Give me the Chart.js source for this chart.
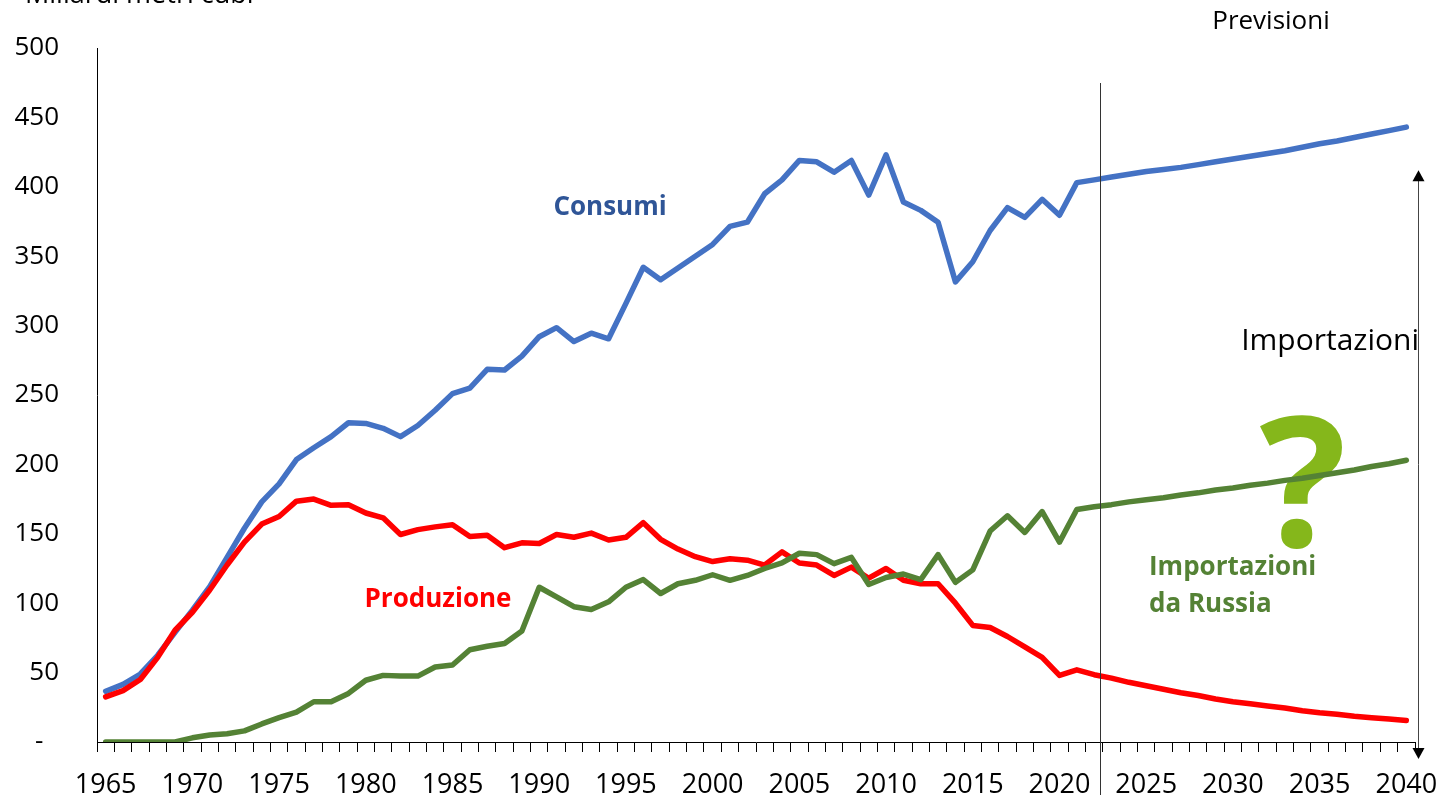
<!DOCTYPE html>
<html lang="it">
<head>
    <meta charset="UTF-8">
    <title>Gas naturale - consumi, produzione, importazioni</title>
    <script src="https://cdn.jsdelivr.net/npm/chart.js"></script>
    <style>
        body {
            margin: 0;
            background-color: white;
        }
        #wrap {
            width: 1443px;
            height: 795px;
        }
    </style>
</head>
<body>
    <div id="wrap">
        <canvas id="gasChart" width="1443" height="795"></canvas>
    </div>

    <script>
        // anni 1965 - 2040 (dal 2022 previsioni)
        const anni = [
            1965, 1966, 1967, 1968, 1969, 1970, 1971, 1972, 1973, 1974,
            1975, 1976, 1977, 1978, 1979, 1980, 1981, 1982, 1983, 1984,
            1985, 1986, 1987, 1988, 1989, 1990, 1991, 1992, 1993, 1994,
            1995, 1996, 1997, 1998, 1999, 2000, 2001, 2002, 2003, 2004,
            2005, 2006, 2007, 2008, 2009, 2010, 2011, 2012, 2013, 2014,
            2015, 2016, 2017, 2018, 2019, 2020, 2021, 2022, 2023, 2024,
            2025, 2026, 2027, 2028, 2029, 2030, 2031, 2032, 2033, 2034,
            2035, 2036, 2037, 2038, 2039, 2040
        ];

        const consumi = [
            36.5, 41.5, 49, 62.5, 79, 95, 112, 133, 154, 173,
            186, 203.5, 212, 220, 230, 229.5, 226, 220, 228, 239,
            251, 255, 268.5, 268, 278, 292, 298.5, 288.5, 294.5, 290.5,
            316, 342, 333, 341.5, 350, 358.5, 371.5, 374.5, 395, 405,
            419, 418, 410.5, 419, 394, 423, 389, 383, 374.5, 331.5,
            346, 368.5, 385, 378, 391, 379.5, 403, 405, 407, 409,
            411, 412.5, 414, 416, 418, 420, 422, 424, 426, 428.5,
            431, 433, 435.5, 438, 440.5, 443
        ];

        const produzione = [
            32.5, 37, 45, 61, 80.5, 93.5, 109.5, 127.5, 144, 157,
            162.5, 173.5, 175, 170.5, 171, 165, 161.5, 149.5, 153, 155,
            156.5, 148, 149, 140, 143.5, 143, 149.5, 147.5, 150.5, 145.5,
            147.5, 158, 146, 139, 133.5, 130, 132, 131, 127.5, 137,
            129, 127.5, 120, 126, 118, 125, 116.5, 114, 114, 100,
            84, 82.5, 76, 68.5, 61, 48, 52, 48.5, 46, 43,
            40.5, 38, 35.5, 33.5, 31, 29, 27.5, 26, 24.5, 22.5,
            21, 20, 18.5, 17.5, 16.5, 15.5
        ];

        const importRussia = [
            0, 0, 0, 0, 0, 3, 5, 6, 8, 13,
            17.5, 21.5, 29, 29, 35, 44.5, 48, 47.5, 47.5, 54,
            55.5, 66.5, 69, 71, 80, 111.5, 104.5, 97.5, 95.5, 101,
            111.5, 117, 107, 114, 116.5, 120.5, 116.5, 120, 125, 129,
            136, 135, 128.5, 133, 113.5, 118.5, 121, 117, 135, 115,
            124, 152, 163, 151, 166, 144, 167.5, 169.5, 171, 173,
            174.5, 176, 178, 179.5, 181.5, 183, 185, 186.5, 188.5, 190,
            192, 194, 196, 198.5, 200.5, 203
        ];

        const yTicks = [0, 50, 100, 150, 200, 250, 300, 350, 400, 450, 500];

        const font = "'Open Sans', 'DejaVu Sans', sans-serif";

        function arrowHead(ctx, x, y, dir) {
            ctx.beginPath();
            ctx.moveTo(x, y);
            ctx.lineTo(x - 6, y - dir * 11);
            ctx.lineTo(x + 6, y - dir * 11);
            ctx.closePath();
            ctx.fill();
        }

        // "?" sotto le linee
        const questionPlugin = {
            id: 'question',
            beforeDatasetsDraw(chart) {
                const ctx = chart.ctx;
                ctx.save();
                ctx.fillStyle = '#85b71b';
                ctx.font = 'bold 182px ' + font;
                ctx.textAlign = 'center';
                ctx.textBaseline = 'alphabetic';
                ctx.fillText('?', 1303, 547);
                ctx.restore();
            }
        };

        // scritte, linea delle previsioni e freccia
        const notesPlugin = {
            id: 'notes',
            afterDraw(chart) {
                const ctx = chart.ctx;
                const x = chart.scales.x;
                const y = chart.scales.y;
                const area = chart.chartArea;
                const step = x.getPixelForValue(1) - x.getPixelForValue(0);
                ctx.save();

                // linea inizio previsioni
                const xPrev = x.getPixelForValue(anni.indexOf(2022)) + step * 0.33;
                ctx.strokeStyle = '#333';
                ctx.lineWidth = 1;
                ctx.beginPath();
                ctx.moveTo(Math.round(xPrev) + 0.5, 83);
                ctx.lineTo(Math.round(xPrev) + 0.5, 795);
                ctx.stroke();

                // freccia importazioni
                const xArr = Math.round(area.right + 3) + 0.5;
                const yTop = y.getPixelForValue(412);
                const yBot = area.bottom + 17;
                ctx.strokeStyle = '#444';
                ctx.fillStyle = '#000';
                ctx.beginPath();
                ctx.moveTo(xArr, yTop + 8);
                ctx.lineTo(xArr, yBot - 8);
                ctx.stroke();
                arrowHead(ctx, xArr, yTop, -1);
                arrowHead(ctx, xArr, yBot, 1);

                ctx.fillStyle = '#000';
                ctx.font = '27px ' + font;
                ctx.textAlign = 'left';
                ctx.textBaseline = 'alphabetic';
                ctx.fillText('Miliardi metri cubi', 25, 3);
                ctx.textBaseline = 'middle';
                ctx.font = '26px ' + font;
                ctx.textAlign = 'center';
                ctx.fillText('Previsioni', 1271, 22);
                ctx.font = '30px ' + font;
                ctx.textAlign = 'right';
                ctx.fillText('Importazioni', 1419, 341);

                ctx.font = 'bold 26px ' + font;
                ctx.textAlign = 'center';
                ctx.fillStyle = '#2f5597';
                ctx.fillText('Consumi', 610, 208);
                ctx.fillStyle = '#ff0000';
                ctx.fillText('Produzione', 438, 600);
                ctx.fillStyle = '#548235';
                ctx.textAlign = 'left';
                ctx.fillText('Importazioni', 1149, 568);
                ctx.fillText('da Russia', 1149, 605);
                ctx.restore();
            }
        };

        const lineStyle = {
            borderWidth: 5.5,
            pointRadius: 0,
            tension: 0,
            borderCapStyle: 'round',
            borderJoinStyle: 'round'
        };

        const ctx = document.getElementById('gasChart').getContext('2d');
        const gasChart = new Chart(ctx, {
            type: 'line',
            data: {
                labels: anni,
                datasets: [
                    Object.assign({
                        label: 'Consumi',
                        data: consumi,
                        borderColor: '#4472c4',
                        backgroundColor: '#4472c4',
                        order: 3
                    }, lineStyle),
                    Object.assign({
                        label: 'Produzione',
                        data: produzione,
                        borderColor: '#ff0000',
                        backgroundColor: '#ff0000',
                        order: 2
                    }, lineStyle),
                    Object.assign({
                        label: 'Importazioni da Russia',
                        data: importRussia,
                        borderColor: '#548235',
                        backgroundColor: '#548235',
                        order: 1
                    }, lineStyle)
                ]
            },
            options: {
                responsive: false,
                animation: false,
                layout: {
                    padding: { top: 48, right: 28, bottom: 0, left: 0 }
                },
                plugins: {
                    legend: { display: false },
                    tooltip: { enabled: false }
                },
                scales: {
                    x: {
                        offset: true,
                        grid: {
                            display: true,
                            offset: true,
                            drawOnChartArea: false,
                            drawTicks: true,
                            tickLength: 10,
                            color: '#000'
                        },
                        border: { display: true, color: '#000', width: 1 },
                        ticks: {
                            autoSkip: false,
                            maxRotation: 0,
                            color: '#000',
                            padding: 17,
                            font: { family: font, size: 27 },
                            callback: function (val, i) {
                                const a = anni[i];
                                return a % 5 === 0 ? String(a) : '';
                            }
                        },
                        afterFit: function (scale) {
                            scale.height = 53;
                            scale.paddingLeft = 0;
                            scale.paddingRight = 0;
                        }
                    },
                    y: {
                        min: 0,
                        max: 500,
                        grid: { display: false, drawTicks: false },
                        border: { display: true, color: '#000', width: 1 },
                        afterBuildTicks: function (scale) {
                            scale.ticks = yTicks.map(v => ({ value: v }));
                        },
                        ticks: {
                            color: '#000',
                            padding: 38,
                            font: { family: font, size: 26 },
                            callback: function (v) {
                                return v === 0 ? '-\u2002\u200a' : String(v);
                            }
                        },
                        afterFit: function (scale) {
                            scale.width = 97;
                            scale.paddingTop = 0;
                            scale.paddingBottom = 0;
                        }
                    }
                }
            },
            plugins: [questionPlugin, notesPlugin]
        });
    </script>
</body>
</html>
